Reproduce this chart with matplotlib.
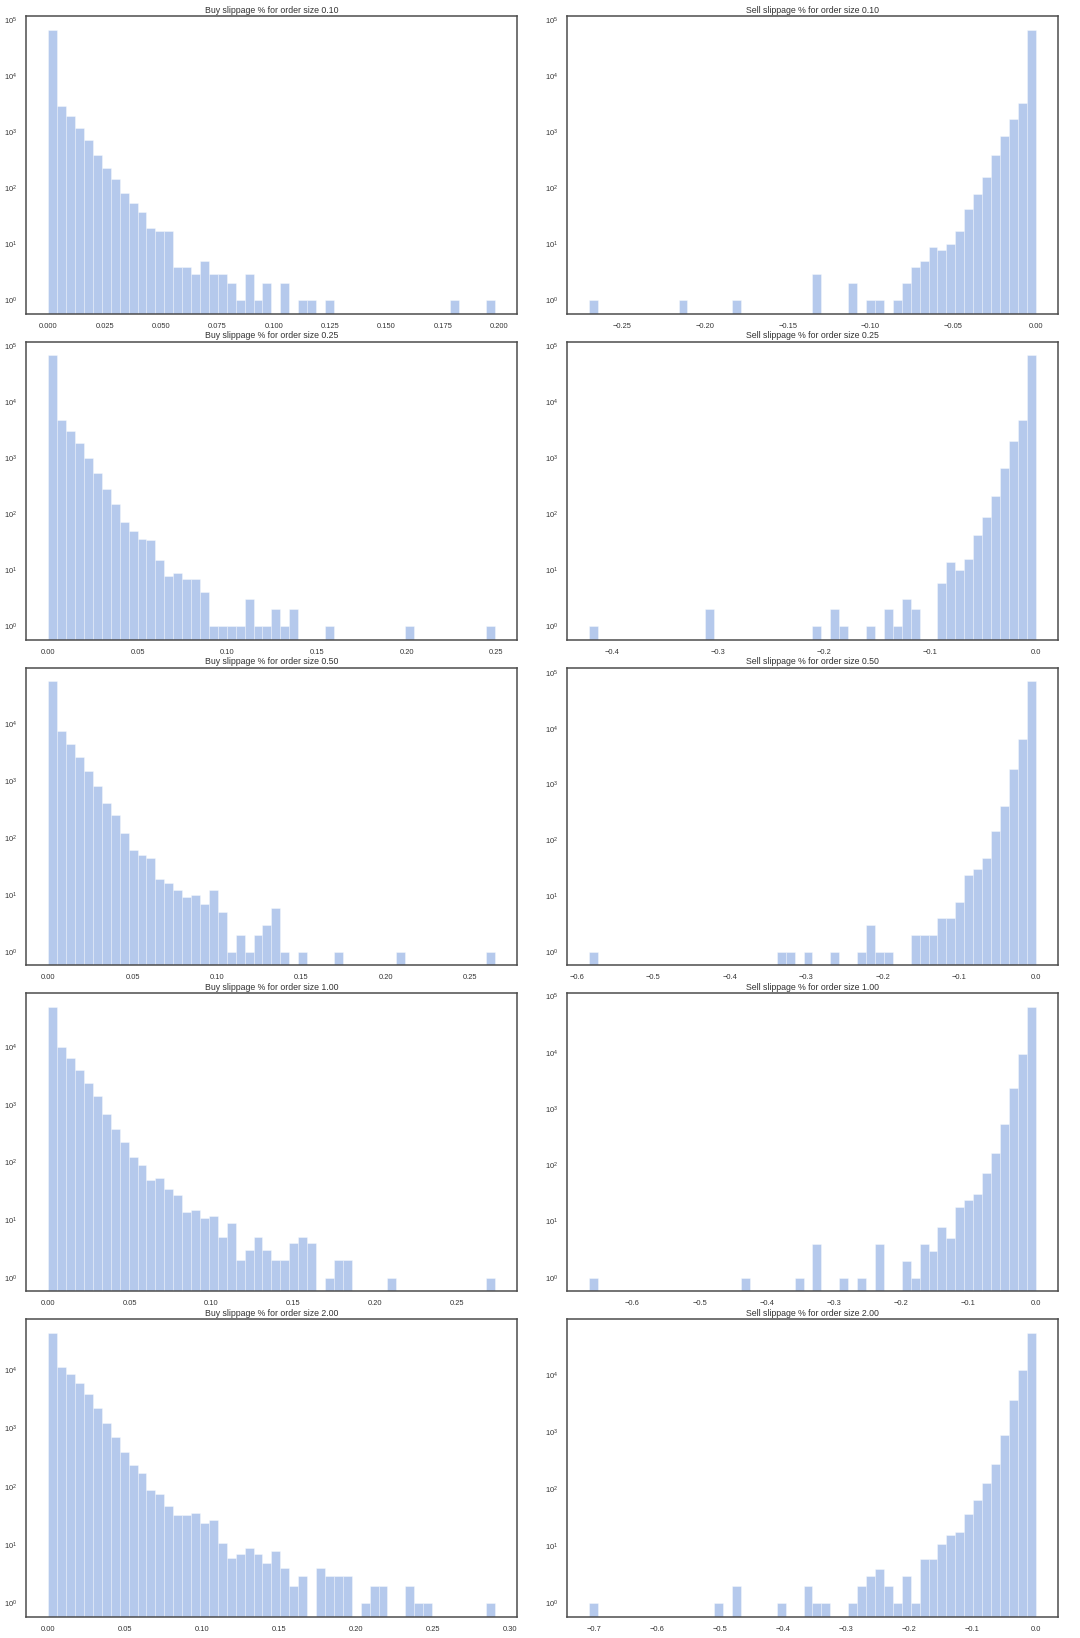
import numpy as np
import matplotlib
matplotlib.use('Agg')
import matplotlib.pyplot as plt
import seaborn as sns

sns.set_style('white')
plt.rcParams['font.family'] = ['Liberation Sans', 'DejaVu Sans']

order_sizes = ['0.10', '0.25', '0.50', '1.00', '2.00']

# (min, max) of the slippage values per order size -> 50 equal bins
buy_ranges = [(0.0, 0.198), (0.0, 0.249), (0.0, 0.2646), (0.0, 0.2733), (0.0, 0.2898)]
sell_ranges = [(-0.270, 0.0), (-0.4218, 0.0), (-0.5838, 0.0), (-0.664, 0.0), (-0.7074, 0.0)]

# bin counts (50 bins each)
buy_010 = [69000, 3000, 1950, 1200, 720, 400, 235, 150, 83, 55,
           38, 20, 17, 17, 4, 4, 3, 5, 3, 3,
           2, 1, 3, 1, 2, 0, 2, 0, 1, 1,
           0, 1, 0, 0, 0, 0, 0, 0, 0, 0,
           0, 0, 0, 0, 0, 1, 0, 0, 0, 1]
sell_010 = [1, 0, 0, 0, 0, 0, 0, 0, 0, 0,
            1, 0, 0, 0, 0, 0, 1, 0, 0, 0,
            0, 0, 0, 0, 0, 3, 0, 0, 0, 2,
            0, 1, 1, 0, 1, 2, 4, 5, 9, 8,
            10, 17, 43, 79, 160, 390, 850, 1700, 3300, 68000]
buy_025 = [69000, 4900, 3100, 1850, 1020, 540, 277, 152, 72, 50,
           36, 34, 15, 8, 9, 7, 7, 4, 1, 1,
           1, 1, 3, 1, 1, 2, 1, 2, 0, 0,
           0, 1, 0, 0, 0, 0, 0, 0, 0, 0,
           1, 0, 0, 0, 0, 0, 0, 0, 0, 1]
sell_025 = [1, 0, 0, 0, 0, 0, 0, 0, 0, 0,
            0, 0, 0, 2, 0, 0, 0, 0, 0, 0,
            0, 0, 0, 0, 0, 1, 0, 2, 1, 0,
            0, 1, 0, 2, 1, 3, 2, 0, 0, 6,
            14, 10, 16, 42, 90, 215, 675, 2000, 4800, 69000]
buy_050 = [56000, 7350, 4350, 2600, 1480, 810, 410, 252, 120, 62,
           51, 44, 19, 16, 12, 9, 10, 7, 12, 5,
           1, 2, 1, 2, 3, 6, 1, 0, 1, 0,
           0, 0, 1, 0, 0, 0, 0, 0, 0, 1,
           0, 0, 0, 0, 0, 0, 0, 0, 0, 1]
sell_050 = [1, 0, 0, 0, 0, 0, 0, 0, 0, 0,
            0, 0, 0, 0, 0, 0, 0, 0, 0, 0,
            0, 1, 1, 0, 1, 0, 0, 1, 0, 0,
            1, 3, 1, 1, 0, 0, 2, 2, 2, 4,
            4, 8, 24, 30, 49, 148, 415, 1920, 6600, 71000]
buy_100 = [50500, 10300, 6600, 4100, 2400, 1410, 705, 390, 228, 127,
           92, 49, 55, 35, 27, 14, 15, 11, 12, 5,
           9, 2, 3, 5, 3, 2, 2, 4, 5, 4,
           0, 1, 2, 2, 0, 0, 0, 0, 1, 0,
           0, 0, 0, 0, 0, 0, 0, 0, 0, 1]
sell_100 = [1, 0, 0, 0, 0, 0, 0, 0, 0, 0,
            0, 0, 0, 0, 0, 0, 0, 1, 0, 0,
            0, 0, 0, 1, 0, 4, 0, 0, 1, 0,
            1, 0, 4, 0, 0, 2, 1, 4, 3, 8,
            5, 18, 24, 31, 72, 167, 545, 2400, 9300, 65000]
buy_200 = [43000, 11100, 8500, 5900, 3800, 2230, 1240, 716, 394, 236,
           172, 89, 74, 46, 33, 33, 35, 24, 27, 11,
           6, 7, 9, 7, 5, 8, 4, 2, 3, 0,
           4, 3, 3, 3, 0, 1, 2, 2, 0, 0,
           2, 1, 1, 0, 0, 0, 0, 0, 0, 1]
sell_200 = [1, 0, 0, 0, 0, 0, 0, 0, 0, 0,
            0, 0, 0, 0, 1, 0, 2, 0, 0, 0,
            0, 1, 0, 0, 2, 1, 1, 0, 0, 1,
            2, 3, 4, 2, 1, 3, 1, 6, 6, 11,
            16, 18, 37, 64, 126, 273, 870, 3630, 11900, 54000]

buy_counts = [buy_010, buy_025, buy_050, buy_100, buy_200]
sell_counts = [sell_010, sell_025, sell_050, sell_100, sell_200]

fig, axes = plt.subplots(5, 2, figsize=(10.8, 16.38), dpi=100)
fig.subplots_adjust(left=0.024, right=0.9796, top=0.9902, bottom=0.0128,
                    wspace=0.102, hspace=0.094)

for i, size in enumerate(order_sizes):
    panels = [('Buy', buy_counts[i], buy_ranges[i]),
              ('Sell', sell_counts[i], sell_ranges[i])]
    for j, (side, counts, rng) in enumerate(panels):
        ax = axes[i, j]
        edges = np.linspace(rng[0], rng[1], 51)
        centers = (edges[:-1] + edges[1:]) / 2
        ax.hist(centers, bins=edges, weights=counts, log=True,
                color='#4878d0', alpha=0.4, edgecolor='white', linewidth=0.6)
        ax.set_title('{} slippage % for order size {}'.format(side, size),
                     fontsize=6.3, pad=2.5, color='.2')
        ax.tick_params(labelsize=5.4, pad=3, colors='.2')
        for sp in ax.spines.values():
            sp.set_color('.3')
            sp.set_linewidth(1.1)

plt.savefig('out.png', dpi=100)
